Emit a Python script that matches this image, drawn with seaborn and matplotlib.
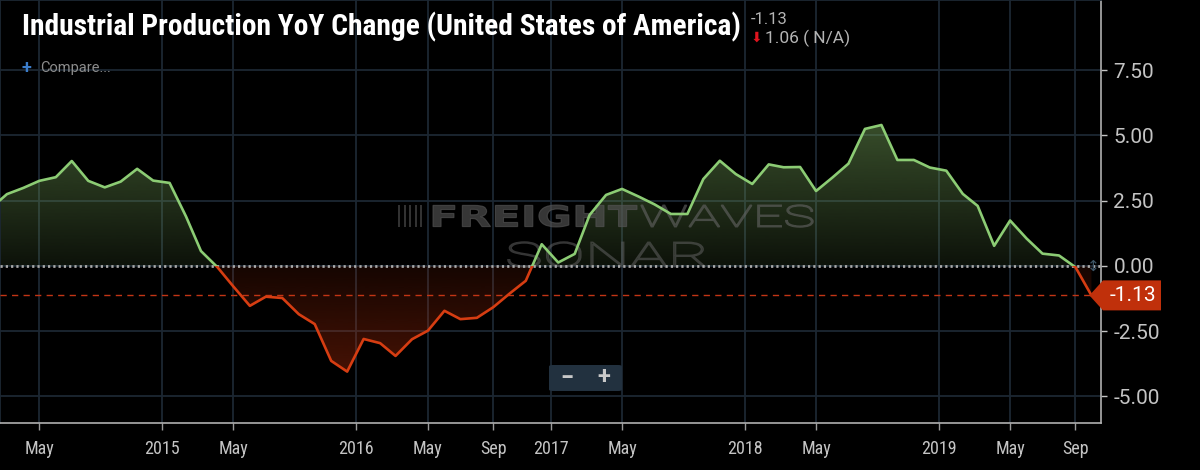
import numpy as np
import pandas as pd
import matplotlib
matplotlib.use("Agg")
import matplotlib.pyplot as plt
import matplotlib.dates as mdates
from matplotlib.patches import Rectangle, Polygon, FancyBboxPatch, PathPatch
from matplotlib.textpath import TextPath
from matplotlib.font_manager import FontProperties
from matplotlib.transforms import Affine2D
from matplotlib import font_manager
import seaborn as sns

# DATA (monthly, Feb 2014 - Oct 2019)

start_month = "2014-02"
values = [
    2.25, 2.75, 2.99, 3.26, 3.40, 4.02, 3.26, 3.01, 3.23, 3.72, 3.27,
    3.18, 1.89, 0.57, -0.05, -0.79, -1.53, -1.18, -1.23, -1.85, -2.23, -3.64, -4.05,
    -2.80, -2.96, -3.45, -2.81, -2.48, -1.72, -2.04, -1.99, -1.58, -1.07, -0.57, 0.83,
    0.13, 0.46, 1.95, 2.72, 2.95, 2.66, 2.36, 1.99, 1.99, 3.33, 4.03, 3.52,
    3.14, 3.89, 3.78, 3.79, 2.87, 3.39, 3.92, 5.25, 5.40, 4.06, 4.06, 3.77,
    3.65, 2.76, 2.30, 0.77, 1.74, 1.05, 0.47, 0.40, -0.05, -1.13,
]
last_value = -1.13
change_text = "1.06 ( N/A)"
title = "Industrial Production YoY Change (United States of America)"

xtick_dates = ["2014-05-15", "2015-01-01", "2015-05-15", "2016-01-01", "2016-05-15",
               "2016-09-15", "2017-01-01", "2017-05-15", "2018-01-01", "2018-05-15",
               "2019-01-01", "2019-05-15", "2019-09-15"]
xtick_labels = ["May", "2015", "May", "2016", "May", "Sep", "2017", "May",
                "2018", "May", "2019", "May", "Sep"]
yticks = [-5.0, -2.5, 0.0, 2.5, 5.0, 7.5]

dates = pd.date_range(start_month + "-01", periods=len(values), freq="MS") + pd.Timedelta(days=14)
df = pd.DataFrame({"date": dates, "value": values})

# STYLE

GREEN = "#8ccc74"
RED = "#d63d12"
GRID = "#1c2732"
TICK = "#c4c4c4"

sns.set_theme(style="dark", rc={
    "figure.facecolor": "black",
    "axes.facecolor": "black",
    "savefig.facecolor": "black",
})

names = {f.name for f in font_manager.fontManager.ttflist}
cond = next((n for n in ["Roboto Condensed", "Liberation Sans Narrow"] if n in names), "Roboto")
plt.rcParams["font.family"] = ["Roboto", "DejaVu Sans"]

fig = plt.figure(figsize=(12, 4.7), dpi=100)
ax = fig.add_axes([0, 47 / 470, 1101 / 1200, 423 / 470])

def fx(px):
    return px / 1200

def fy(py):
    return 1 - py / 470

PIX = Affine2D().scale(1 / 1200, 1 / 470) + fig.transFigure

# ZERO CROSSINGS FOR FILLS

xn = mdates.date2num(df["date"])
yv = df["value"].to_numpy()
xs, ys = [xn[0]], [yv[0]]
for i in range(1, len(yv)):
    if yv[i - 1] * yv[i] < 0:
        t = yv[i - 1] / (yv[i - 1] - yv[i])
        xs.append(xn[i - 1] + t * (xn[i] - xn[i - 1]))
        ys.append(0.0)
    xs.append(xn[i])
    ys.append(yv[i])
xs = np.array(xs)
ys = np.array(ys)


def gradient_fill(yfill, rgb, a_zero, a_edge):
    poly = ax.fill_between(xs, 0, yfill, facecolor="none", edgecolor="none")
    ext = yfill.max() if yfill.max() > 0 else yfill.min()
    lo, hi = min(0, ext), max(0, ext)
    yg = np.linspace(lo, hi, 256)
    img = np.zeros((256, 1, 4))
    img[..., :3] = matplotlib.colors.to_rgb(rgb)
    img[:, 0, 3] = a_zero + (a_edge - a_zero) * np.abs(yg) / abs(ext)
    im = ax.imshow(img, extent=[xs[0], xs[-1], lo, hi], origin="lower",
                   aspect="auto", interpolation="bicubic", zorder=2)
    im.set_clip_path(poly.get_paths()[0], transform=ax.transData)


gradient_fill(np.maximum(ys, 0), "#6f9a55", 0.12, 0.5)
gradient_fill(np.minimum(ys, 0), "#b8300c", 0.12, 0.38)

# LINES (green above zero, red below)

sns.lineplot(data=df, x="date", y="value", ax=ax, color=GREEN, lw=1.9, zorder=5)
ax.lines[-1].set_clip_path(Rectangle((0, 0), 1e5, 100, transform=ax.transData))
sns.lineplot(data=df, x="date", y="value", ax=ax, color=RED, lw=1.9, zorder=5)
ax.lines[-1].set_clip_path(Rectangle((0, -100), 1e5, 100, transform=ax.transData))

ax.axhline(0, color="#a8a8a8", lw=2.0, ls=(0, (0.8, 1.1)), zorder=4)
ax.axhline(last_value, color="#c23515", lw=1.0, ls=(0, (4.5, 3.8)), zorder=4)

# AXES

ax.set_xlim(mdates.datestr2num("2014-03-02"), mdates.datestr2num("2019-11-02"))
ax.set_ylim(-6.02, 10.19)
ax.set_xlabel("")
ax.set_ylabel("")

ax.yaxis.tick_right()
ax.set_yticks(yticks)
ax.set_yticklabels([f"{v:.2f}" for v in yticks])
ax.set_xticks(mdates.datestr2num(xtick_dates))
ax.set_xticklabels(xtick_labels)

ax.grid(True, color=GRID, lw=1.3, zorder=0)
ax.set_axisbelow(True)
ax.tick_params(axis="y", colors=TICK, labelcolor=TICK, length=4, width=1, pad=5,
               labelsize=15, right=True, left=False)
ax.tick_params(axis="x", colors="#9a9a9a", labelcolor=TICK, length=5, width=1, pad=7,
               labelsize=13, bottom=True)
for lab in ax.get_xticklabels():
    lab.set_family([cond, "Roboto"])

for side in ["left", "top"]:
    ax.spines[side].set_color(GRID)
    ax.spines[side].set_linewidth(1.3)
for side in ["right", "bottom"]:
    ax.spines[side].set_color("#b0b0b0")
    ax.spines[side].set_linewidth(1.2)

# WATERMARK (stretched text paths, pixel positions measured from the top)


def stretched(s, x0, x1, ybase, cap, weight, face, edge, lw, family="DejaVu Sans"):
    tp = TextPath((0, 0), s, size=100, prop=FontProperties(family=family, weight=weight))
    bb = tp.get_extents()
    tr = (Affine2D().translate(-bb.x0, -bb.y0)
          .scale((x1 - x0) / bb.width, cap / bb.height)
          .translate(x0, 470 - ybase)) + PIX
    ax.add_artist(PathPatch(tp, transform=tr, facecolor=face, edgecolor=edge, lw=lw, zorder=3))


stretched("FREIGHT", 433, 637, 227, 22, "bold", (0.33, 0.33, 0.33, 0.65), (0.33, 0.33, 0.33, 0.65), 0.8)
stretched("WAVES", 641, 813, 227, 22, "light", "none", (0.4, 0.4, 0.4, 0.6), 1.1, "Roboto")
stretched("SONAR", 508, 705, 267, 25, "light", "none", (0.38, 0.38, 0.38, 0.55), 1.1, "Roboto")
for k in range(5):
    ax.add_artist(Rectangle((398 + k * 5.5, 470 - 227), 2.2, 22, transform=PIX,
                            facecolor=(0.33, 0.33, 0.33, 0.6), edgecolor="none", zorder=3))

# HEADER TEXT

tt = fig.text(fx(22), fy(35), title, fontsize=20, fontweight="bold", color="white",
              family=[cond, "Roboto"], va="baseline", ha="left")
renderer = fig.canvas.get_renderer()
w = tt.get_window_extent(renderer).width
tt.set_fontsize(20 * 718 / w)

fig.text(fx(751), fy(19), f"{last_value:.2f}", fontsize=12, color="#b4b4b4", va="center")
fig.text(fx(751), fy(38), "\u2b07", fontsize=10, color="#e0141e", family="DejaVu Sans", va="center")
fig.text(fx(765), fy(38), change_text, fontsize=12.5, color="#b4b4b4", va="center")
fig.text(fx(22), fy(68), "+", fontsize=13, color="#3b7cc9", fontweight="bold", va="center")
fig.text(fx(40), fy(68), "Compare...", fontsize=10.5, color="#8c8c8c", va="center")

# ZOOM BUTTONS

fig.patches.append(FancyBboxPatch((fx(549), fy(391)), fx(73), 26 / 470,
                                  boxstyle="round,pad=0,rounding_size=0.003",
                                  transform=fig.transFigure, facecolor="#22313f",
                                  edgecolor="none", zorder=6))
fig.text(fx(567), fy(378), "\u2212", fontsize=17, fontweight="bold", color="#c8c8c8",
         ha="center", va="center", zorder=7)
fig.text(fx(604), fy(378), "+", fontsize=17, fontweight="bold", color="#c8c8c8",
         ha="center", va="center", zorder=7)
fig.lines.append(plt.Line2D([fx(588), fx(588)], [fy(370), fy(386)], transform=fig.transFigure,
                            color="#3c4d5b", lw=1))

# LAST VALUE BADGE

ypx = ax.transData.transform((0, last_value))[1]
ytop = 470 - ypx
xend = ax.transData.transform((xn[-1], 0))[0]
badge = [(xend - 2, ytop), (1103, ytop - 15), (1161, ytop - 15), (1161, ytop + 15), (1103, ytop + 15)]
fig.patches.append(Polygon([(fx(a), fy(b)) for a, b in badge], closed=True,
                           transform=fig.transFigure, facecolor="#c0300b", edgecolor="none",
                           zorder=6))
fig.text(fx(1133), fy(ytop), f"{last_value:.2f}", fontsize=15, color="white",
         ha="center", va="center", zorder=7)
fig.text(fx(1093), fy(266), "\u2195", fontsize=11, color="#3d5566", family="DejaVu Sans",
         ha="center", va="center")

plt.savefig("out.png", dpi=100)
